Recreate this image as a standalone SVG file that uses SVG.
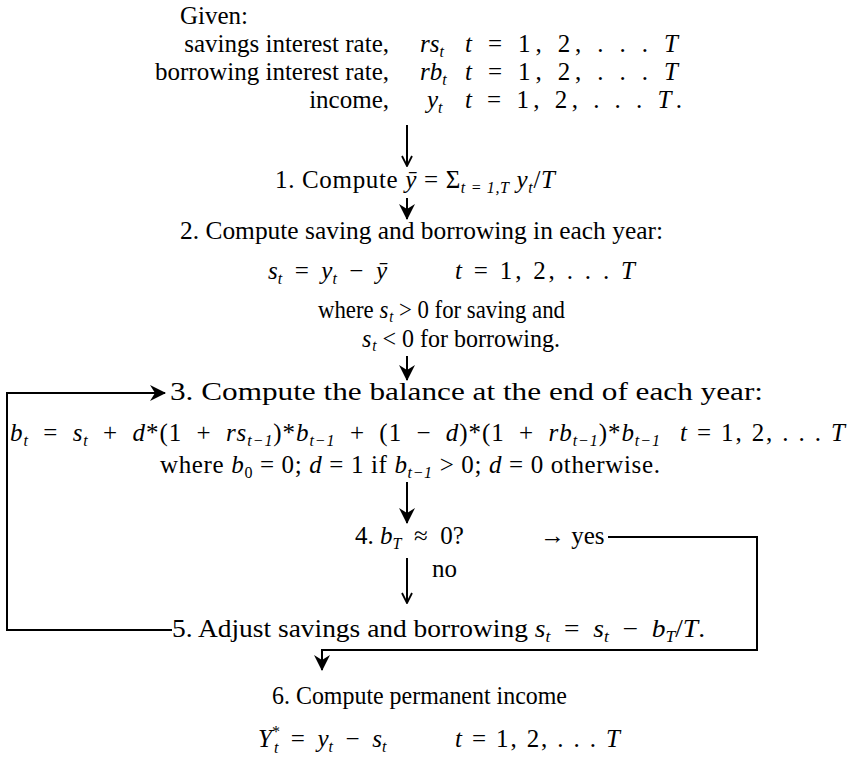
<svg xmlns="http://www.w3.org/2000/svg" width="848" height="782" viewBox="0 0 848 782">
<style>
text{font-family:"Liberation Serif","Times New Roman",serif;font-size:25px;fill:#000}
.i{font-style:italic}
.s{font-size:16px}
.ln{fill:none;stroke:#000;stroke-width:2}
</style>
<defs>
<marker id="open" viewBox="0 0 12 12" refX="11" refY="6" markerWidth="12" markerHeight="12" markerUnits="userSpaceOnUse" orient="auto">
<path d="M1,1 L11,6 L1,11" fill="none" stroke="#000" stroke-width="1.8"/>
</marker>
<marker id="bold" viewBox="0 0 16 16" refX="15" refY="8" markerWidth="16" markerHeight="16" markerUnits="userSpaceOnUse" orient="auto">
<path d="M0,0 L16,8 L0,16 L5,8 Z" fill="#000"/>
</marker>
</defs>
<g id="given">
<text x="180" y="24">Given:</text>
<text x="389" y="52" text-anchor="end">savings interest rate,</text>
<text x="420" y="52" class="i">rs<tspan class="s" dy="5">t</tspan></text>
<text x="465" y="52" textLength="213" lengthAdjust="spacing"><tspan class="i">t</tspan> = 1, 2, . . . <tspan class="i">T</tspan></text>
<text x="389" y="80" text-anchor="end">borrowing interest rate,</text>
<text x="420" y="80" class="i">rb<tspan class="s" dy="5">t</tspan></text>
<text x="465" y="80" textLength="213" lengthAdjust="spacing"><tspan class="i">t</tspan> = 1, 2, . . . <tspan class="i">T</tspan></text>
<text x="389" y="108" text-anchor="end">income,</text>
<text x="427" y="108" class="i">y<tspan class="s" dy="5">t</tspan></text>
<text x="465" y="108" textLength="217" lengthAdjust="spacing"><tspan class="i">t</tspan> = 1, 2, . . . <tspan class="i">T</tspan>.</text>
</g>
<g id="step1">
<text x="275" y="188" textLength="280" lengthAdjust="spacing">1. Compute <tspan class="i">ȳ</tspan> = Σ<tspan class="s i" dy="5">t = 1,T</tspan><tspan class="i" dy="-5"> y</tspan><tspan class="s i" dy="5">t</tspan><tspan dy="-5">/</tspan><tspan class="i">T</tspan></text>
</g>
<g id="step2">
<text x="180" y="239" textLength="483" lengthAdjust="spacingAndGlyphs">2. Compute saving and borrowing in each year:</text>
<text x="268" y="279"><tspan class="i">s</tspan><tspan class="s i" dy="5">t</tspan><tspan dy="-5"> &#160;= &#160;</tspan><tspan class="i">y</tspan><tspan class="s i" dy="5">t</tspan><tspan dy="-5"> &#160;− &#160;</tspan><tspan class="i">ȳ</tspan></text>
<text x="455" y="279" textLength="180" lengthAdjust="spacing"><tspan class="i">t</tspan> = 1, 2, . . . <tspan class="i">T</tspan></text>
<text x="318" y="318" font-size="24" textLength="247" lengthAdjust="spacingAndGlyphs">where <tspan class="i">s</tspan><tspan class="s i" dx="1" dy="4">t</tspan><tspan dy="-4"> &gt; 0 for saving and</tspan></text>
<text x="362" y="347" font-size="24" textLength="198" lengthAdjust="spacingAndGlyphs"><tspan class="i">s</tspan><tspan class="s i" dx="1" dy="4">t</tspan><tspan dy="-4"> &lt; 0 for borrowing.</tspan></text>
</g>
<g id="step3">
<text x="170" y="400" font-size="28" textLength="593" lengthAdjust="spacingAndGlyphs">3. Compute the balance at the end of each year:</text>
<text x="10" y="441" font-size="26" textLength="650" lengthAdjust="spacing"><tspan class="i">b</tspan><tspan class="s i" dy="5">t</tspan><tspan dy="-5"> &#160;= &#160;</tspan><tspan class="i">s</tspan><tspan class="s i" dy="5">t</tspan><tspan dy="-5"> &#160;+ &#160;</tspan><tspan class="i">d</tspan>*(1 &#160;+ &#160;<tspan class="i">rs</tspan><tspan class="s i" dy="5">t−1</tspan><tspan dy="-5">)*</tspan><tspan class="i">b</tspan><tspan class="s i" dy="5">t−1</tspan><tspan dy="-5"> &#160;+ &#160;(1 &#160;− &#160;</tspan><tspan class="i">d</tspan>)*(1 &#160;+ &#160;<tspan class="i">rb</tspan><tspan class="s i" dy="5">t−1</tspan><tspan dy="-5">)*</tspan><tspan class="i">b</tspan><tspan class="s i" dy="5">t−1</tspan></text>
<text x="680" y="441" font-size="26" textLength="165" lengthAdjust="spacing"><tspan class="i">t</tspan> = 1, 2, . . . <tspan class="i">T</tspan></text>
<text x="160" y="473" font-size="26" textLength="500" lengthAdjust="spacing">where <tspan class="i">b</tspan><tspan class="s" dy="5">0</tspan><tspan dy="-5"> = 0; </tspan><tspan class="i">d</tspan> = 1 if <tspan class="i">b</tspan><tspan class="s i" dy="5">t−1</tspan><tspan dy="-5"> &gt; 0; </tspan><tspan class="i">d</tspan> = 0 otherwise.</text>
</g>
<g id="step4">
<text x="355" y="544">4. <tspan class="i">b</tspan><tspan class="s i" dy="5">T</tspan><tspan dy="-5"> &#160;≈ &#160;0?</tspan></text>
<text x="540" y="544">→ yes</text>
<text x="432" y="577">no</text>
</g>
<g id="step5">
<text x="172" y="637" font-size="27" textLength="533" lengthAdjust="spacingAndGlyphs">5. Adjust savings and borrowing <tspan class="i">s</tspan><tspan class="s i" dy="5">t</tspan><tspan dy="-5"> &#160;= &#160;</tspan><tspan class="i">s</tspan><tspan class="s i" dy="5">t</tspan><tspan dy="-5"> &#160;− &#160;</tspan><tspan class="i">b</tspan><tspan class="s i" dy="5">T</tspan><tspan dy="-5">/</tspan><tspan class="i">T</tspan>.</text>
</g>
<g id="step6">
<text x="272" y="704" font-size="24" textLength="295" lengthAdjust="spacingAndGlyphs">6. Compute permanent income</text>
<text x="258" y="747"><tspan class="i">Y</tspan><tspan class="s" dy="-10">*</tspan><tspan class="s i" dx="-6" dy="16">t</tspan><tspan dy="-6"> &#160;= &#160;</tspan><tspan class="i">y</tspan><tspan class="s i" dy="5">t</tspan><tspan dy="-5"> &#160;− &#160;</tspan><tspan class="i">s</tspan><tspan class="s i" dy="5">t</tspan></text>
<text x="455" y="747" textLength="165" lengthAdjust="spacing"><tspan class="i">t</tspan> = 1, 2, . . . <tspan class="i">T</tspan></text>
</g>
<g id="connectors">
<line class="ln" x1="407" y1="125" x2="407" y2="166" marker-end="url(#open)"/>
<line class="ln" x1="407" y1="198" x2="407" y2="219" marker-end="url(#bold)"/>
<line class="ln" x1="407" y1="356" x2="407" y2="380" marker-end="url(#bold)"/>
<line class="ln" x1="407" y1="482" x2="407" y2="523" marker-end="url(#bold)"/>
<line class="ln" x1="407" y1="558" x2="407" y2="603" marker-end="url(#open)"/>
<polyline class="ln" points="172,630 7,630 7,393 165,393" marker-end="url(#bold)"/>
<polyline class="ln" points="608,537 757,537 757,650 322,650 322,670" marker-end="url(#bold)"/>
</g>
</svg>
